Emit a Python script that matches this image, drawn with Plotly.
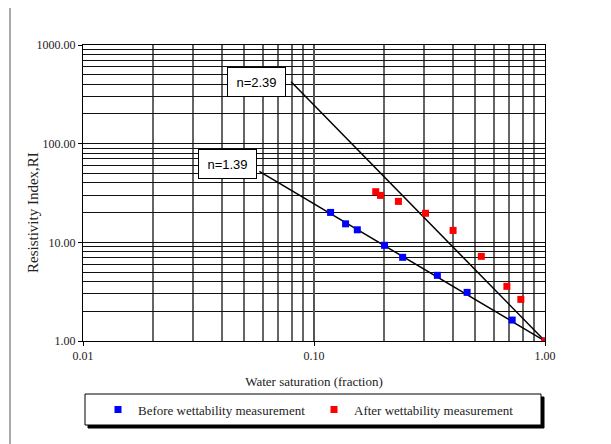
import numpy as np
import plotly.graph_objects as go

# ---- data ----
sw_before = [0.118, 0.137, 0.154, 0.202, 0.242, 0.342, 0.460, 0.721, 1.00]
ri_before = [20.1, 15.4, 13.4, 9.33, 7.05, 4.63, 3.11, 1.63, 1.00]

sw_after = [0.185, 0.194, 0.232, 0.304, 0.400, 0.530, 0.684, 0.786, 1.00]
ri_after = [32.6, 29.9, 26.0, 19.7, 13.2, 7.21, 3.58, 2.64, 1.00]

fit_n = [2.39, 1.39]
fit_sw_start = [0.0796, 0.058]
fit_labels = ["n=2.39", "n=1.39"]

x_ticks = [0.01, 0.1, 1.0]
x_ticktext = ["0.01", "0.10", "1.00"]
y_ticks = [1, 10, 100, 1000]
y_ticktext = ["1.00", "10.00", "100.00", "1000.00"]

# ---- geometry helpers (screen pixel -> paper); page body has an 8px margin ----
OFF = 8
W, H = 611 - OFF, 444 - OFF
L, R, T, B = 83, 545, 45, 341          # plot area in screen pixels
def px(x):
    return (x - L) / (R - L)
def py(y):
    return (B - y) / (B - T)

x_minor = [m * 10.0 ** d for d in (-2, -1) for m in range(2, 10)]
y_minor = [m * 10.0 ** d for d in (0, 1, 2) for m in range(2, 10)]

fig = go.Figure()

# fitted Archie lines RI = Sw^-n
for n, s0 in zip(fit_n, fit_sw_start):
    sw_line = np.array([s0, 1.0])
    fig.add_trace(go.Scatter(
        x=sw_line, y=sw_line ** (-n), mode="lines",
        line=dict(color="black", width=1.5), showlegend=False, hoverinfo="skip"))

fig.add_trace(go.Scatter(
    x=sw_before, y=ri_before, mode="markers", name="Before wettability measurement",
    marker=dict(symbol="square", size=7, color="#0000FF")))
fig.add_trace(go.Scatter(
    x=sw_after, y=ri_after, mode="markers", name="After wettability measurement",
    marker=dict(symbol="square", size=7, color="#FF0000")))

serif = "Liberation Serif, Times New Roman, serif"

# label boxes for fitted lines (placed at left end of each line)
label_pos = [(256, 82.5), (227, 163.5)]
annotations = []
for txt, (lx, ly) in zip(fit_labels, label_pos):
    annotations.append(dict(
        x=px(lx), y=py(ly), xref="paper", yref="paper", text=txt, showarrow=False,
        font=dict(family="Liberation Sans, Arial", size=13, color="black"),
        bgcolor="white", bordercolor="black", borderwidth=1,
        width=55, height=26, xanchor="center", yanchor="middle"))

# y-axis title (placed as in the reference, slightly below plot centre)
annotations.append(dict(
    x=px(33), y=py(213), xref="paper", yref="paper", text="Resistivity Index,RI",
    showarrow=False, textangle=-90, xanchor="center", yanchor="middle",
    font=dict(family=serif, size=15, color="#222222")))

shapes = [
    # outer chart frame
    dict(type="rect", xref="paper", yref="paper", layer="below",
         x0=px(10), x1=px(640), y0=py(3), y1=py(470),
         line=dict(color="#555555", width=1), fillcolor="rgba(0,0,0,0)"),
    # legend shadow
    dict(type="rect", xref="paper", yref="paper", layer="above",
         x0=px(88), x1=px(544), y0=py(397), y1=py(428),
         line=dict(color="black", width=1), fillcolor="black"),
    # legend box
    dict(type="rect", xref="paper", yref="paper", layer="above",
         x0=px(85), x1=px(541), y0=py(394), y1=py(425),
         line=dict(color="black", width=1), fillcolor="white"),
]

axis_font = dict(family=serif, size=12, color="#222222")
title_font = dict(family=serif, size=13, color="#222222")

fig.update_layout(
    width=W, height=H,
    margin=dict(l=L - OFF, r=W - (R - OFF), t=T - OFF, b=H - (B - OFF), pad=0),
    paper_bgcolor="white", plot_bgcolor="white",
    showlegend=True,
    legend=dict(orientation="h", x=px(314), y=py(409.5), xanchor="center", yanchor="middle",
                bgcolor="rgba(0,0,0,0)", borderwidth=0,
                font=dict(family=serif, size=13, color="#222222"),
                itemwidth=30, entrywidth=171),
    annotations=annotations,
    shapes=shapes,
)

fig.update_xaxes(
    type="log", range=[-2, 0],
    tickvals=x_ticks, ticktext=x_ticktext, tickfont=axis_font,
    ticks="outside", ticklen=4, tickcolor="black",
    showgrid=True, gridcolor="#555555", gridwidth=1.5,
    minor=dict(tickvals=x_minor, showgrid=True, gridcolor="#666666", gridwidth=1.5, ticks=""),
    showline=True, linecolor="black", linewidth=1, mirror=True,
    title=dict(text="Water saturation (fraction)", font=title_font, standoff=14),
    zeroline=False,
)
fig.update_yaxes(
    type="log", range=[0, 3],
    tickvals=y_ticks, ticktext=y_ticktext, tickfont=axis_font,
    ticks="outside", ticklen=4, tickcolor="black",
    showgrid=True, gridcolor="#111111", gridwidth=1,
    minor=dict(tickvals=y_minor, showgrid=True, gridcolor="#111111", gridwidth=1, ticks=""),
    showline=True, linecolor="black", linewidth=1, mirror=True,
    zeroline=False,
)

fig.write_html("out.html")
